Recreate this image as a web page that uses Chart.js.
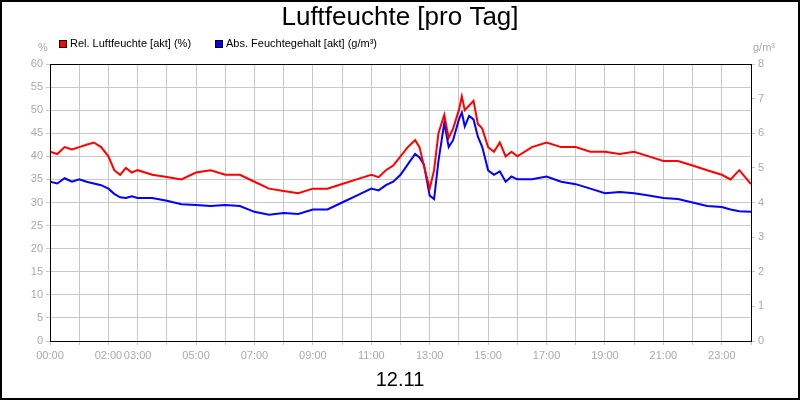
<!DOCTYPE html>
<html><head><meta charset="utf-8">
<script src="https://cdn.jsdelivr.net/npm/chart.js@4"></script>
<style>html,body{margin:0;padding:0;background:#fff}#w{width:800px;height:400px;position:relative;box-sizing:border-box}</style>
</head><body><div id="w"><canvas id="c" width="800" height="400"></canvas></div>
<script>
const hours = [0,0.25,0.5,0.75,1,1.25,1.5,1.75,2,2.2,2.4,2.6,2.8,3,3.5,4,4.5,5,5.5,6,6.5,7,7.5,8,8.5,9,9.5,10,10.5,11,11.25,11.5,11.75,12,12.25,12.5,12.65,12.8,13,13.15,13.3,13.5,13.65,13.8,14,14.1,14.2,14.35,14.5,14.65,14.8,15,15.2,15.4,15.6,15.8,16,16.5,17,17.5,18,18.5,19,19.5,20,20.5,21,21.5,22,22.5,23,23.3,23.6,24];
const relHum = [41,40.5,42,41.5,42,42.5,43,42,40,37,36,37.5,36.5,37,36,35.5,35,36.5,37,36,36,34.5,33,32.5,32,33,33,34,35,36,35.5,37,38,40,42,43.5,42,38,33,37,45,49,44,46,50,53,50,51,52,47,46,42,41,43,40,41,40,42,43,42,42,41,41,40.5,41,40,39,39,38,37,36,35,37,34];
const absHum = [4.6,4.55,4.7,4.6,4.67,4.6,4.55,4.5,4.4,4.25,4.15,4.13,4.18,4.13,4.13,4.05,3.95,3.93,3.9,3.93,3.9,3.73,3.65,3.7,3.67,3.8,3.8,4.0,4.2,4.4,4.35,4.5,4.6,4.8,5.1,5.4,5.3,5.1,4.2,4.1,5.2,6.3,5.6,5.8,6.4,6.6,6.2,6.5,6.4,5.9,5.6,4.93,4.8,4.9,4.6,4.75,4.67,4.67,4.75,4.6,4.53,4.4,4.27,4.3,4.27,4.2,4.13,4.1,4.0,3.9,3.87,3.8,3.75,3.73];
const leftTicks = [0,5,10,15,20,25,30,35,40,45,50,55,60];
const rightTicks = [0,1,2,3,4,5,6,7,8];
const labeledHours = [0,2,3,5,7,9,11,13,15,17,19,21,23];
const fmt = h => (h<10?'0':'')+h+':00';

const deco = {
  id:'deco',
  afterDraw(ch){
    const c=ch.ctx, a=ch.chartArea;
    c.save();
    c.strokeStyle='#000';c.lineWidth=1;
    c.strokeRect(a.left+0.5,a.top+0.5,a.right-a.left,a.bottom-a.top);
    c.lineWidth=2;c.strokeRect(1,1,798,398);
    c.fillStyle='#000';c.textAlign='center';c.textBaseline='middle';
    c.font='26px Arial, "Liberation Sans", sans-serif';
    c.fillText('Luftfeuchte [pro Tag]',400,18);
    c.font='20px Arial, "Liberation Sans", sans-serif';
    c.fillText('12.11',400,380);
    c.font='11px Arial, "Liberation Sans", sans-serif';
    c.textAlign='left';
    c.fillStyle='red';c.fillRect(59,40,8,8);c.strokeStyle='#000';c.lineWidth=1;c.strokeRect(59.5,40.5,7,7);
    c.fillStyle='#000';c.fillText('Rel. Luftfeuchte [akt] (%)',70,44);
    c.fillStyle='blue';c.fillRect(215,40,8,8);c.strokeRect(215.5,40.5,7,7);
    c.fillStyle='#000';c.fillText('Abs. Feuchtegehalt [akt] (g/m³)',226,44);
    c.fillStyle='#aaa';
    c.fillText('%',38,48);
    c.fillText('g/m³',753,48);
    c.restore();
  }
};

new Chart(document.getElementById('c'),{
  type:'line',
  data:{datasets:[
    {data:hours.map((h,i)=>({x:h,y:relHum[i]})),borderColor:'#ff0000',borderWidth:2,pointRadius:0,tension:0,yAxisID:'y'},
    {data:hours.map((h,i)=>({x:h,y:absHum[i]})),borderColor:'#0000ff',borderWidth:2,pointRadius:0,tension:0,yAxisID:'y2'}
  ]},
  options:{
    responsive:false,animation:false,
    layout:{padding:{top:64,left:0,right:0,bottom:0}},
    plugins:{legend:{display:false},tooltip:{enabled:false}},
    scales:{
      x:{type:'linear',min:0,max:24,
        afterBuildTicks(s){s.ticks=[];for(let h=0;h<=24;h++)s.ticks.push({value:h});},
        afterFit(s){s.height=59;},
        grid:{color:'#c8c8c8',tickLength:4,drawTicks:true},border:{display:false},
        ticks:{color:'#aaa',font:{size:11,family:'Arial, "Liberation Sans", sans-serif'},maxRotation:0,autoSkip:false,padding:4,
          callback:(v)=>labeledHours.includes(v)?fmt(v):''}},
      y:{position:'left',min:0,max:60,
        afterBuildTicks(s){s.ticks=leftTicks.map(v=>({value:v}));},
        afterFit(s){s.width=50;},
        grid:{color:'#c8c8c8',tickLength:4},border:{display:false},
        ticks:{color:'#aaa',font:{size:11,family:'Arial, "Liberation Sans", sans-serif'},padding:3}},
      y2:{position:'right',min:0,max:8,
        afterBuildTicks(s){s.ticks=rightTicks.map(v=>({value:v}));},
        afterFit(s){s.width=49;},
        grid:{drawOnChartArea:false,tickLength:4,color:'#c8c8c8'},border:{display:false},
        ticks:{color:'#aaa',font:{size:11,family:'Arial, "Liberation Sans", sans-serif'},padding:3}}
    }
  },
  plugins:[deco]
});
</script></body></html>
